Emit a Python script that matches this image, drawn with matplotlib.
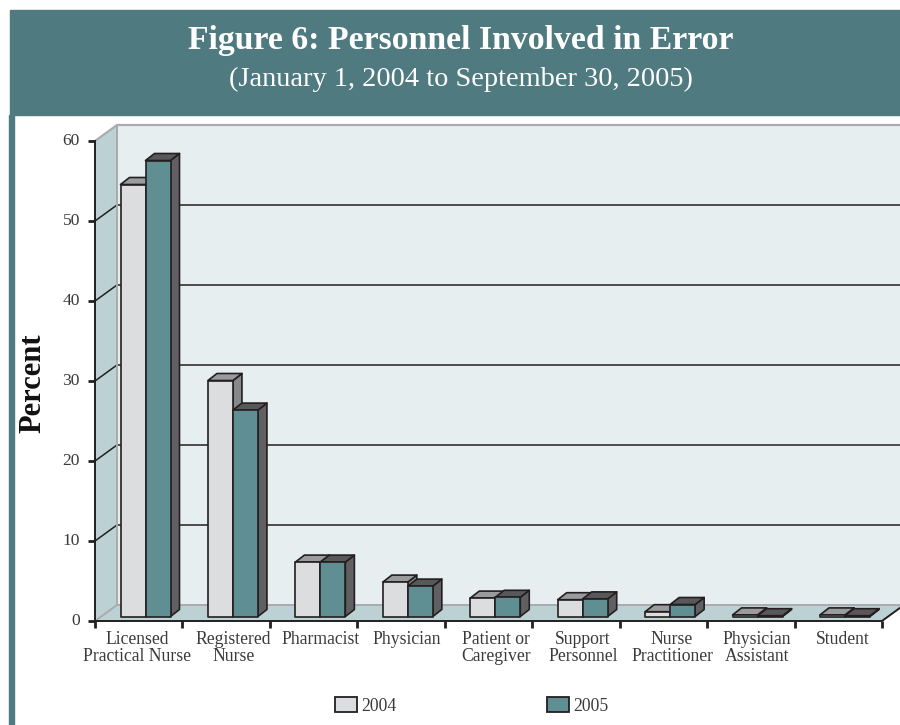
"""
Figure 6: personnel involved in error, drawn as a pseudo-3D bar chart.
"""

import matplotlib
matplotlib.use('Agg')
import matplotlib.pyplot as plt
from matplotlib.patches import Polygon, Rectangle, Patch

categories = ['Licensed\nPractical Nurse', 'Registered\nNurse', 'Pharmacist', 'Physician',
              'Patient or\nCaregiver', 'Support\nPersonnel', 'Nurse\nPractitioner',
              'Physician\nAssistant', 'Student']
values_2004 = [54.0, 29.5, 6.8, 4.3, 2.3, 2.1, 0.6, 0.2, 0.2]
values_2005 = [57.0, 25.8, 6.8, 3.8, 2.4, 2.2, 1.5, 0.1, 0.1]
y_ticks = [0, 10, 20, 30, 40, 50, 60]

HEADER = '#4f7a80'
WALL = '#bcd1d3'
BACK = '#e6eef0'
EDGE = '#a9abad'
INK = '#231f20'
TEXT = '#3a3a3c'
FONT = 'Liberation Serif'

# one category is 87.44 px wide and one percent is 8 px tall
PX_X = 1 / 87.44
PX_Y = 1 / 8
WALL_DX, WALL_DY = 22 * PX_X, 16 * PX_Y
BAR_W = 25 * PX_X
BAR_DX, BAR_DY = 9 * PX_X, 7 * PX_Y
BAR_X0, BAR_Y0 = 25.5 * PX_X, 4.5 * PX_Y

fig = plt.figure(figsize=(9, 7.25), dpi=100)
ax = fig.add_axes([0, 0, 1, 1])
ax.set_xlim(-95 * PX_X, 805 * PX_X)
ax.set_ylim(-104 * PX_Y, 621 * PX_Y)
ax.axis('off')

# header band and left rule
fig.patches.append(Rectangle((10 / 900, 1 - 115 / 725), 890 / 900, 105 / 725,
                             transform=fig.transFigure, color=HEADER))
fig.patches.append(Rectangle((9 / 900, 0), 5 / 900, 1 - 115 / 725,
                             transform=fig.transFigure, color=HEADER))
fig.text(461 / 900, 1 - 41 / 725, 'Figure 6: Personnel Involved in Error', color='white',
         family=FONT, fontweight='bold', fontsize=24.3, ha='center', va='center')
fig.text(461 / 900, 1 - 79 / 725, '(January 1, 2004 to September 30, 2005)', color='white',
         family=FONT, fontsize=20.4, ha='center', va='center')

n = len(categories)
top = y_ticks[-1]
right = n + WALL_DX

# walls and floor
ax.add_patch(Polygon([(WALL_DX, WALL_DY), (right, WALL_DY), (right, top + WALL_DY), (WALL_DX, top + WALL_DY)],
                     fc=BACK, ec='none', zorder=1))
ax.add_patch(Polygon([(0, 0), (WALL_DX, WALL_DY), (WALL_DX, top + WALL_DY), (0, top)],
                     fc=WALL, ec='none', zorder=1))
ax.add_patch(Polygon([(0, 0), (n, 0), (right, WALL_DY), (WALL_DX, WALL_DY)],
                     fc=WALL, ec='none', zorder=1))

# gridlines across the side and back walls
for t in y_ticks[1:-1]:
    ax.plot([0, WALL_DX, right], [t, t + WALL_DY, t + WALL_DY], color=INK, lw=1.1, zorder=2)

ax.plot([0, WALL_DX, right], [top, top + WALL_DY, top + WALL_DY], color=EDGE, lw=1.6, zorder=2)
ax.plot([WALL_DX, WALL_DX], [WALL_DY, top + WALL_DY], color=EDGE, lw=1.4, zorder=2)
ax.plot([0, WALL_DX, right], [0, WALL_DY, WALL_DY], color=EDGE, lw=1.4, zorder=2)


def draw_bar(x, value, front, roof, side, z):
    """One box: front face, roof and right side."""
    y0 = BAR_Y0
    y1 = BAR_Y0 + value
    style = dict(ec=INK, lw=1.2, joinstyle='round', zorder=z)
    ax.add_patch(Polygon([(x + BAR_W, y0), (x + BAR_W + BAR_DX, y0 + BAR_DY),
                          (x + BAR_W + BAR_DX, y1 + BAR_DY), (x + BAR_W, y1)], fc=side, **style))
    ax.add_patch(Polygon([(x, y1), (x + BAR_W, y1), (x + BAR_W + BAR_DX, y1 + BAR_DY),
                          (x + BAR_DX, y1 + BAR_DY)], fc=roof, **style))
    ax.add_patch(Rectangle((x, y0), BAR_W, value, fc=front, **style))


for i in range(n):
    x = i + BAR_X0
    draw_bar(x, values_2004[i], '#dcdddf', '#9a9b9d', '#87888a', 3 + i * 0.01)
    draw_bar(x + BAR_W, values_2005[i], '#5f8f93', '#58585a', '#606062', 3.005 + i * 0.01)

# axes in front of the chart
ax.plot([0, 0], [0, top], color=INK, lw=1.4, zorder=5)
ax.plot([0, n, right], [0, 0, WALL_DY], color=INK, lw=1.4, zorder=5)
for t in y_ticks:
    ax.plot([-7 * PX_X, 0], [t, t], color=INK, lw=2, solid_capstyle='butt', zorder=5)
    ax.text(-15 * PX_X, t, str(t), family=FONT, fontsize=12.6, color=TEXT, ha='right', va='center')
for i in range(n + 1):
    ax.plot([i, i], [0, -7 * PX_Y], color=INK, lw=2, solid_capstyle='butt', zorder=5)

# the first label sits a little left of the others
label_shift = [0.48, 0.58, 0.58, 0.56, 0.59, 0.58, 0.60, 0.57, 0.55]
for i, name in enumerate(categories):
    ax.text(i + label_shift[i], -10 * PX_Y, name, family=FONT, fontsize=12.7, color=TEXT,
            ha='center', va='top', linespacing=0.98)

ax.text(-62 * PX_X, 238 * PX_Y, 'Percent', family=FONT, fontsize=22, fontweight='bold',
        color='#111111', rotation=90, ha='center', va='center')

handles = [Patch(fc='#dcdddf', ec=INK, lw=1.3, label='2004'),
           Patch(fc='#5f8f93', ec=INK, lw=1.3, label='2005')]
fig.legend(handles=handles, loc='center', bbox_to_anchor=(471.6 / 900, 1 - 706 / 725), ncol=2,
           frameon=False, prop={'family': FONT, 'size': 12.7}, labelcolor=TEXT,
           handlelength=1.25, handleheight=0.9, handletextpad=0.25, columnspacing=8.5)

fig.savefig('out.png', dpi=100)
